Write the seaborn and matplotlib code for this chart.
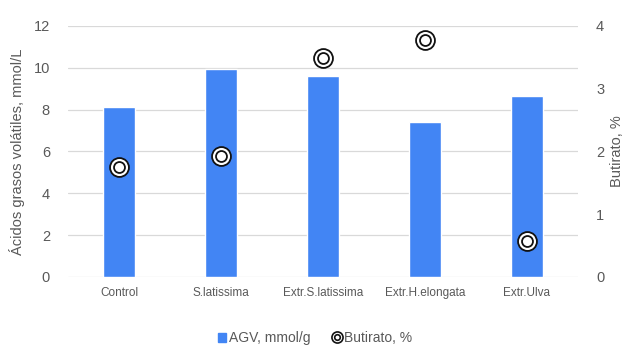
import matplotlib
matplotlib.use("Agg")
import matplotlib.pyplot as plt
from matplotlib.lines import Line2D
from matplotlib.patches import Patch
from matplotlib.legend_handler import HandlerTuple
import seaborn as sns
import pandas as pd

categories = ["Control", "S.latissima", "Extr.S.latissima", "Extr.H.elongata", "Extr.Ulva"]
agv = [8.13, 9.95, 9.62, 7.42, 8.66]
butirato = [1.75, 1.93, 3.49, 3.78, 0.57]
left_ticks = [0, 2, 4, 6, 8, 10, 12]
right_ticks = [0, 1, 2, 3, 4]

sns.set_theme(style="white")
plt.rcParams["font.family"] = ["Liberation Sans", "DejaVu Sans"]

df = pd.DataFrame({"cat": categories, "agv": agv, "but": butirato})

fig = plt.figure(figsize=(6.3, 3.46), dpi=100)
ax = fig.add_axes([68 / 630, 1 - 277 / 346, 510 / 630, 251 / 346])

blue = "#4285F4"
grey = "#595959"
sns.barplot(data=df, x="cat", y="agv", color=blue, width=0.31, ax=ax,
            saturation=1, zorder=2)
ax.set_ylim(0, 12)
ax.set_yticks(left_ticks)
ax.set_xlim(-0.5, 4.5)
ax.grid(axis="y", color="#d9d9d9", linewidth=0.9, zorder=0)
ax.set_axisbelow(True)
for s in ax.spines.values():
    s.set_visible(False)
ax.tick_params(axis="y", labelsize=10.5, colors=grey, length=0, pad=13)
ax.tick_params(axis="x", labelsize=8.5, colors=grey, length=0, pad=7)
ax.set_xlabel("")
ax.set_ylabel("Ácidos grasos volátiles, mmol/L", fontsize=10.5, color=grey, labelpad=6)

ax2 = ax.twinx()
ax2.set_ylim(0, 4)
ax2.set_yticks(right_ticks)
for s in ax2.spines.values():
    s.set_visible(False)
ax2.tick_params(axis="y", labelsize=10.5, colors=grey, length=0, pad=13)
ax2.set_ylabel("Butirato, %", fontsize=10.5, color=grey, labelpad=4)

# double-ring marker: outer ring plus inner ring
sns.scatterplot(data=df, x="cat", y="but", ax=ax2, s=185, marker="o",
                facecolor="white", edgecolor="#111111", linewidth=1.3, zorder=3)
sns.scatterplot(data=df, x="cat", y="but", ax=ax2, s=62, marker="o",
                facecolor="white", edgecolor="#111111", linewidth=1.3, zorder=4)
ax2.set_xlabel("")

h_bar = Patch(facecolor=blue, edgecolor=blue)
h_out = Line2D([], [], marker="o", linestyle="none", markersize=8,
               markerfacecolor="white", markeredgecolor="#111111", markeredgewidth=1.2)
h_in = Line2D([], [], marker="o", linestyle="none", markersize=4,
              markerfacecolor="white", markeredgecolor="#111111", markeredgewidth=1.2)
fig.legend([h_bar, (h_out, h_in)], ["AGV, mmol/g", "Butirato, %"],
           handler_map={tuple: HandlerTuple(ndivide=1)},
           loc="center", bbox_to_anchor=(0.5, 1 - 338 / 346), ncol=2,
           frameon=False, fontsize=10, labelcolor=grey,
           handlelength=0.6, handleheight=0.6, handletextpad=0.2, columnspacing=1.6)

fig.savefig("out.png", dpi=100)
